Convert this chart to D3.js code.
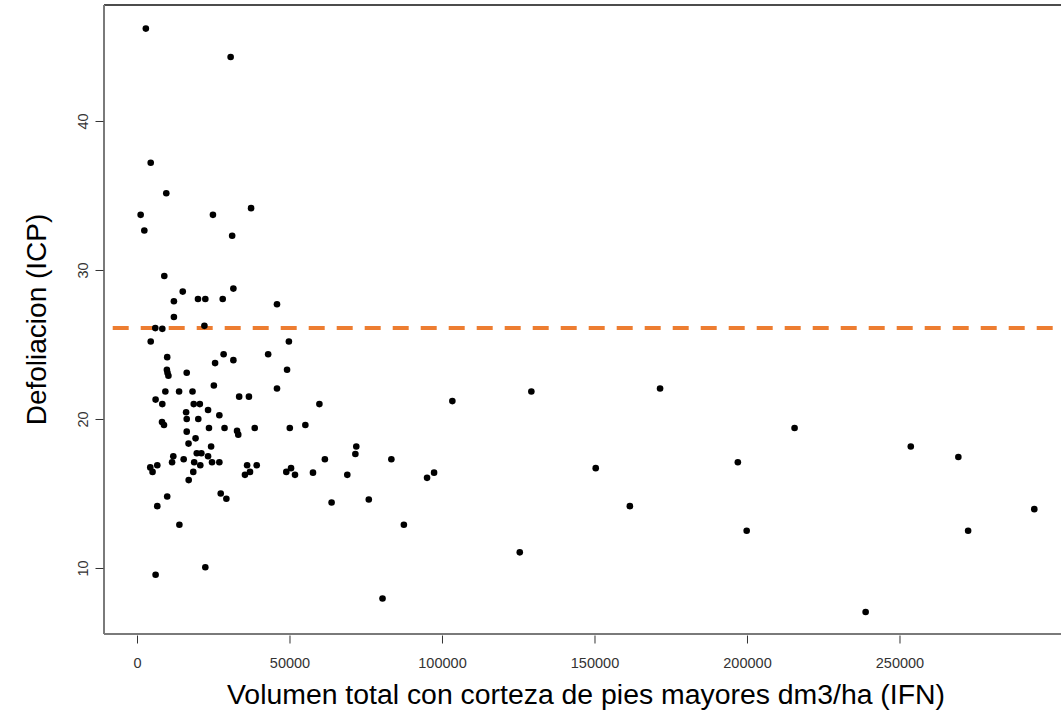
<!DOCTYPE html>
<html>
<head>
<meta charset="utf-8">
<script src="https://cdn.jsdelivr.net/npm/d3@7"></script>
<style>
  body { margin: 0; background: #fff; }
  svg { display: block; font-family: "Liberation Sans", Arial, sans-serif; }
</style>
</head>
<body>
<svg id="chart" width="1061" height="714"></svg>
<script>
// Volumen total (dm3/ha, IFN)
const volumen = [
  2900, 30700, 4500, 9600, 1200, 24900, 37400, 2400, 31200, 8950,
  15000, 12100, 20000, 22400, 28100, 31600, 45900, 12100, 6000, 8300,
  22100, 4500, 49800, 9900, 28400, 43000, 25600, 31600, 9800, 10000,
  10300, 16300, 49200, 25200, 9300, 13800, 18200, 45900, 6100, 33500,
  36700, 8300, 18600, 20600, 16100, 23300, 27000, 8200, 8850, 16300,
  20100, 16300, 23600, 28700, 32800, 33200, 38600, 50100, 19200, 16900,
  24300, 11900, 11500, 19600, 21100, 15300, 18750, 20750, 23300, 24600,
  27000, 4350, 5100, 6650, 18450, 16950, 36100, 39250, 35400, 37050,
  48950, 50500, 51800, 27450, 29300, 9900, 6650, 13900, 22400, 6100,
  59800, 55200, 103400, 71900, 71600, 61600, 83400, 57700, 68950, 95100,
  97400, 63800, 76000, 87500, 80500, 129300, 171500, 150400, 197000, 161600,
  199900, 125500, 215600, 253700, 269300, 294200, 272500, 238900
];
// Defoliacion (ICP)
const defoliacion = [
  46.2, 44.3, 37.2, 35.15, 33.7, 33.7, 34.15, 32.65, 32.3, 29.6,
  28.55, 27.9, 28.05, 28.05, 28.05, 28.75, 27.7, 26.85, 26.1, 26.05,
  26.25, 25.2, 25.2, 24.15, 24.35, 24.35, 23.75, 23.95, 23.3, 23.1,
  22.9, 23.1, 23.3, 22.25, 21.85, 21.85, 21.85, 22.05, 21.3, 21.5,
  21.5, 21.0, 21.0, 21.0, 20.45, 20.6, 20.25, 19.8, 19.6, 20.0,
  20.0, 19.15, 19.4, 19.4, 19.2, 18.95, 19.4, 19.4, 18.7, 18.35,
  18.15, 17.5, 17.1, 17.7, 17.7, 17.3, 17.1, 16.9, 17.5, 17.1,
  17.1, 16.75, 16.45, 16.9, 16.45, 15.9, 16.9, 16.9, 16.25, 16.45,
  16.45, 16.7, 16.25, 15.0, 14.65, 14.8, 14.15, 12.9, 10.05, 9.55,
  21.0, 19.6, 21.2, 18.15, 17.65, 17.3, 17.3, 16.4, 16.25, 16.05,
  16.4, 14.4, 14.6, 12.9, 7.95, 21.85, 22.05, 16.7, 17.1, 14.15,
  12.5, 11.05, 19.4, 18.15, 17.45, 13.95, 12.5, 7.05
];
const xTicks = [0, 50000, 100000, 150000, 200000, 250000];
const yTicks = [10, 20, 30, 40];
const umbral = [26.1];

const xTitle = "Volumen total con corteza de pies mayores dm3/ha (IFN)";
const yTitle = "Defoliacion (ICP)";

const svg = d3.select("#chart");
const L = 104, R = 1068, T = 5, B = 634;

const x = d3.scaleLinear().domain([-10820, 305250]).range([L, R]);
const y = d3.scaleLinear().domain([5.57, 47.785]).range([B, T]);

// box
svg.append("line").attr("x1", L).attr("x2", 1061).attr("y1", T).attr("y2", T)
  .attr("stroke", "#111").attr("stroke-width", 1.3);
svg.append("line").attr("x1", L).attr("x2", L).attr("y1", T).attr("y2", B)
  .attr("stroke", "#7a7a7a").attr("stroke-width", 2);
svg.append("line").attr("x1", L).attr("x2", 1061).attr("y1", B).attr("y2", B)
  .attr("stroke", "#7a7a7a").attr("stroke-width", 2);

// x axis
const gx = svg.append("g").attr("transform", `translate(0,${B + 1.5})`)
  .call(d3.axisBottom(x).tickValues(xTicks).tickSize(8).tickSizeOuter(0).tickFormat(d3.format("d")));
gx.select(".domain").remove();
gx.selectAll(".tick line").attr("stroke", "#333");
gx.selectAll(".tick text").attr("font-size", 14.5).attr("fill", "#333")
  .attr("font-family", "Liberation Sans, Arial, sans-serif").attr("dy", null).attr("y", 32);

// y axis
const gy = svg.append("g").attr("transform", `translate(${L - 0.5},0)`)
  .call(d3.axisLeft(y).tickValues(yTicks).tickSize(8).tickSizeOuter(0));
gy.select(".domain").remove();
gy.selectAll(".tick line").attr("stroke", "#333");
gy.selectAll(".tick text").attr("font-size", 14.5).attr("fill", "#333")
  .attr("font-family", "Liberation Sans, Arial, sans-serif")
  .attr("x", null).attr("dy", null)
  .attr("text-anchor", "middle")
  .attr("transform", "translate(-21,0) rotate(-90)")
  .attr("y", 0).attr("dominant-baseline", "central");

// threshold dashed line
svg.selectAll("line.umbral").data(umbral).enter().append("line")
  .attr("class", "umbral")
  .attr("x1", L).attr("x2", R)
  .attr("y1", d => y(d)).attr("y2", d => y(d))
  .attr("stroke", "#ED7D31").attr("stroke-width", 4)
  .attr("stroke-dasharray", "16 12").attr("stroke-dashoffset", 19.3);

// points
svg.append("g").selectAll("circle").data(volumen.map((v, i) => [v, defoliacion[i]]))
  .enter().append("circle")
  .attr("cx", d => x(d[0])).attr("cy", d => y(d[1])).attr("r", 3.3)
  .attr("fill", "#000");

// titles
svg.append("text").attr("x", (L + R) / 2).attr("y", 704)
  .attr("text-anchor", "middle").attr("font-size", 28.4).attr("fill", "#000")
  .text(xTitle);
svg.append("text").attr("transform", `translate(46,${(T + B) / 2}) rotate(-90)`)
  .attr("text-anchor", "middle").attr("font-size", 28).attr("fill", "#000")
  .text(yTitle);
</script>
</body>
</html>
